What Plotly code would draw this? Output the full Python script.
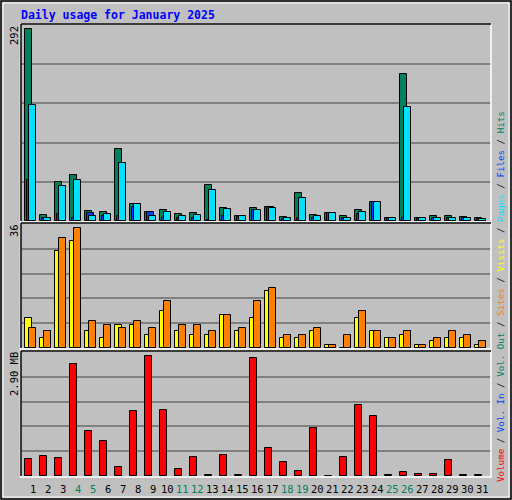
import plotly.graph_objects as go

days = list(range(1, 32))
hits = [292,9,59,70,15,14,110,26,14,17,11,12,55,20,8,20,21,6,43,9,12,8,17,29,5,224,4,8,8,6,5]
files = [62,5,11,4,12,8,8,22,14,4,4,4,2,8,6,17,21,3,4,4,12,5,11,29,4,4,3,4,4,4,3]
pages = [177,4,53,62,8,10,88,26,8,14,8,9,47,18,8,17,20,5,35,8,12,5,14,29,5,174,4,5,5,5,3]
visits = [9,3,29,32,5,3,7,7,4,11,5,4,4,10,5,9,17,3,3,5,1,0,9,5,3,4,1,2,3,3,1]
sites = [6,5,33,36,8,7,6,8,6,14,7,7,5,10,6,14,18,4,4,6,1,4,11,5,3,5,1,3,5,4,2]
volume = [0.40,0.48,0.43,2.71,1.08,0.86,0.23,1.57,2.90,1.59,0.16,0.45,0.03,0.50,0.03,2.85,0.67,0.33,0.11,1.16,0,0.45,1.71,1.45,0.03,0.09,0.06,0.06,0.38,0.03,0.03]
weekend = {4,5,11,12,18,19,25,26}
top_label, mid_label, bot_label = "292", "36", "2.90 MB"

W, H = 512, 500
def px(x): return x / W
def py(y): return 1 - y / H

fig = go.Figure()
bw = 7/15
line = dict(color="black", width=1)
def bar(xs, ys, color, ax, off, w=bw):
    fig.add_trace(go.Bar(x=[d+off for d in xs], y=ys, width=w, marker=dict(color=color, line=line),
                         xaxis="x", yaxis=ax, showlegend=False, hoverinfo="skip"))

bar(days, hits, "#00805c", "y", -0.27)
bar(days, files, "#0040ff", "y", -0.13)
bar(days, pages, "#00e0ff", "y", 0.0)
bar(days, visits, "#ffff00", "y2", -0.27)
bar(days, sites, "#ff8000", "y2", 0.0)
bar(days, volume, "#ff0000", "y3", -0.27)

fig.update_layout(barmode="overlay", width=W, height=H, margin=dict(l=0, r=0, t=0, b=0),
                  paper_bgcolor="#c0c0c0", plot_bgcolor="#c0c0c0", bargap=0)
common = dict(showline=False, zeroline=False, showticklabels=False, gridcolor="#808080", gridwidth=1.5, fixedrange=True)
fig.update_layout(
    xaxis=dict(range=[0.21, 31.54], domain=[px(21), px(491)], showgrid=False, showticklabels=False,
               zeroline=False, anchor="y3"),
    yaxis=dict(range=[0, 298], domain=[py(221), py(25)], tick0=0, dtick=298/5, **common),
    yaxis2=dict(range=[0, 37.2], domain=[py(348), py(224)], tick0=0, dtick=37.2/5, **common),
    yaxis3=dict(range=[0, 3.004], domain=[py(476), py(352)], tick0=0, dtick=3.004/5, **common),
)

shapes = [
    dict(type="rect", xref="paper", yref="paper", x0=px(1), x1=px(511), y0=py(499), y1=py(1),
         line=dict(color="black", width=1.5)),
    dict(type="rect", xref="paper", yref="paper", x0=px(3), x1=px(509), y0=py(497), y1=py(3),
         line=dict(color="white", width=1)),
]
for y0, y1 in [(25, 221), (224, 348), (352, 476)]:
    shapes.append(dict(type="rect", xref="paper", yref="paper", x0=px(20.5), x1=px(491), y0=py(y1+1), y1=py(y0-1),
                       line=dict(color="white", width=1.5)))
    shapes.append(dict(type="line", xref="paper", yref="paper", x0=px(21), x1=px(491), y0=py(y0-1), y1=py(y0-1),
                       line=dict(color="black", width=1.5)))
    shapes.append(dict(type="line", xref="paper", yref="paper", x0=px(21), x1=px(21), y0=py(y1), y1=py(y0-1),
                       line=dict(color="black", width=1.5)))
fig.update_layout(shapes=shapes)

mono = "DejaVu Sans Mono"
ann = [dict(text="<b>Daily usage for January 2025</b>", x=px(19), y=py(15), xref="paper", yref="paper",
            xanchor="left", yanchor="middle", showarrow=False, font=dict(family=mono, size=11.5, color="#0000ff"))]
for t, yc in [(top_label, 36), (mid_label, 231), (bot_label, 374)]:
    ann.append(dict(text=t, x=px(14), y=py(yc), xref="paper", yref="paper", textangle=-90, showarrow=False,
                    xanchor="center", yanchor="middle", font=dict(family=mono, size=10.5, color="black")))
for d in days:
    ann.append(dict(text=str(d), x=d, y=py(489), xref="x", yref="paper", showarrow=False, xanchor="center",
                    yanchor="middle", font=dict(family=mono, size=10.5, color="#00805c" if d in weekend else "black")))
sep = '<span style="color:black"> / </span>'
parts = [("Volume", "#ff0000"), ("Vol. In", "#0040ff"), ("Vol. Out", "#00805c"), ("Sites", "#ff8000"),
         ("Visits", "#ffff00"), ("Pages", "#00e0ff"), ("Files", "#0040ff"), ("Hits", "#00805c")]
legend_txt = sep.join(f'<span style="color:{c}">{t}</span>' for t, c in parts)
ann.append(dict(text=legend_txt, x=px(500), y=py(297), xref="paper", yref="paper", textangle=-90, showarrow=False,
                xanchor="center", yanchor="middle", font=dict(family=mono, size=9.2)))
fig.update_layout(annotations=ann)

fig.write_html("out.html", config=dict(displayModeBar=False))
with open("out.html", encoding="utf-8") as f:
    html = f.read()
html = html.replace("<head>", "<head><style>html,body{margin:0;padding:0;overflow:hidden;}</style>", 1)
with open("out.html", "w", encoding="utf-8") as f:
    f.write(html)
